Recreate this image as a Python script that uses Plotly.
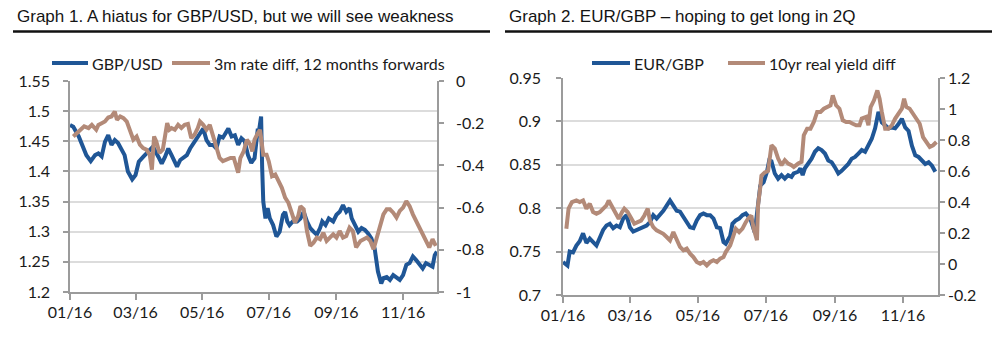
import pandas as pd
import plotly.graph_objects as go

START = pd.Timestamp("2016-01-01")

# ---- Graph 1: GBP/USD vs 3m rate differential (12m forwards) ----
gbpusd_days = [0, 3, 8, 12, 15, 19, 23, 26, 29, 32, 35, 38, 41, 44, 47, 50, 53, 57, 60, 63,
               67, 72, 76, 81, 84, 87, 90, 93, 98, 101, 104, 107, 110, 114, 119, 122, 125, 128,
               131, 134, 137, 140, 145, 148, 151, 154, 157, 160, 163, 166, 169, 171, 172, 173,
               175, 176, 177, 179, 181, 183, 186, 189, 192, 195, 197, 199, 201, 204, 208, 211,
               214, 217, 220, 223, 226, 229, 231, 234, 237, 241, 244, 247, 250, 253, 256, 258,
               261, 264, 267, 270, 273, 276, 279, 281, 282, 285, 287, 290, 293, 296, 299, 302,
               305, 308, 311, 314, 317, 320, 323, 326, 329, 332, 334, 336]
gbpusd = [1.477, 1.474, 1.458, 1.441, 1.427, 1.417, 1.427, 1.430, 1.425, 1.449, 1.460, 1.444,
          1.452, 1.447, 1.438, 1.427, 1.400, 1.387, 1.394, 1.416, 1.424, 1.433, 1.441, 1.424,
          1.413, 1.424, 1.438, 1.427, 1.408, 1.419, 1.424, 1.427, 1.438, 1.449, 1.460, 1.471,
          1.452, 1.444, 1.444, 1.438, 1.458, 1.456, 1.471, 1.458, 1.460, 1.444, 1.455, 1.450,
          1.427, 1.414, 1.422, 1.455, 1.471, 1.466, 1.491, 1.405, 1.350, 1.322, 1.339, 1.322,
          1.311, 1.292, 1.300, 1.328, 1.333, 1.317, 1.311, 1.317, 1.317, 1.322, 1.333, 1.317,
          1.306, 1.300, 1.295, 1.306, 1.317, 1.311, 1.322, 1.317, 1.328, 1.333, 1.344, 1.333,
          1.339, 1.322, 1.311, 1.300, 1.306, 1.303, 1.297, 1.289, 1.272, 1.245, 1.234, 1.214,
          1.223, 1.225, 1.220, 1.228, 1.223, 1.220, 1.228, 1.245, 1.248, 1.259, 1.253, 1.245,
          1.239, 1.248, 1.245, 1.242, 1.261, 1.267]

ratediff_days = [3, 6, 9, 13, 17, 20, 24, 26, 29, 32, 35, 38, 41, 43, 46, 49, 52, 55, 58, 61,
                 64, 67, 70, 73, 75, 77, 79, 82, 85, 89, 91, 93, 96, 99, 102, 105, 108, 111,
                 114, 117, 119, 122, 125, 128, 131, 134, 137, 140, 144, 147, 150, 152, 154, 156,
                 159, 162, 165, 167, 169, 172, 174, 177, 180, 182, 185, 188, 191, 194, 197, 200,
                 203, 206, 209, 211, 214, 217, 220, 223, 226, 229, 232, 235, 238, 241, 244, 247,
                 250, 253, 256, 259, 262, 266, 269, 272, 275, 278, 281, 284, 287, 290, 293, 296,
                 299, 302, 305, 308, 311, 314, 317, 320, 323, 326, 329, 332, 335]
ratediff = [-0.263, -0.247, -0.231, -0.215, -0.223, -0.208, -0.231, -0.208, -0.200, -0.192,
            -0.173, -0.168, -0.145, -0.184, -0.168, -0.176, -0.192, -0.231, -0.278, -0.263,
            -0.302, -0.318, -0.325, -0.349, -0.420, -0.263, -0.286, -0.341, -0.325, -0.200,
            -0.231, -0.223, -0.231, -0.208, -0.223, -0.208, -0.204, -0.270, -0.255, -0.223,
            -0.192, -0.208, -0.231, -0.208, -0.263, -0.302, -0.365, -0.380, -0.373, -0.365,
            -0.365, -0.396, -0.435, -0.365, -0.334, -0.278, -0.300, -0.334, -0.278, -0.247,
            -0.231, -0.349, -0.349, -0.380, -0.451, -0.443, -0.475, -0.506, -0.553, -0.577,
            -0.624, -0.671, -0.639, -0.593, -0.608, -0.711, -0.781, -0.766, -0.742, -0.750,
            -0.719, -0.758, -0.742, -0.727, -0.742, -0.711, -0.742, -0.735, -0.695, -0.711,
            -0.789, -0.758, -0.750, -0.742, -0.758, -0.797, -0.742, -0.679, -0.632, -0.608,
            -0.608, -0.624, -0.647, -0.616, -0.600, -0.569, -0.593, -0.632, -0.663, -0.687,
            -0.727, -0.758, -0.789, -0.750, -0.781]

# ---- Graph 2: EUR/GBP vs 10yr real yield differential ----
eurgbp_days = [0, 4, 6, 9, 12, 15, 18, 21, 24, 27, 30, 33, 36, 39, 42, 45, 48, 51, 54, 57, 60,
               63, 66, 69, 72, 75, 78, 81, 84, 87, 90, 93, 96, 99, 102, 105, 108, 111, 114, 117,
               120, 123, 126, 129, 132, 135, 138, 141, 144, 146, 150, 152, 155, 158, 161, 164,
               168, 172, 175, 177, 180, 183, 185, 187, 190, 193, 196, 199, 202, 205, 207, 211,
               213, 215, 217, 220, 223, 226, 229, 232, 235, 238, 241, 244, 247, 250, 253, 256,
               259, 262, 265, 268, 271, 274, 277, 280, 283, 286, 289, 292, 295, 298, 301, 304,
               307, 310, 313, 316, 319, 322, 325, 328, 331, 334]
eurgbp = [0.738, 0.734, 0.750, 0.749, 0.757, 0.762, 0.771, 0.760, 0.765, 0.761, 0.757, 0.766,
          0.775, 0.780, 0.782, 0.777, 0.780, 0.778, 0.788, 0.792, 0.778, 0.773, 0.775, 0.777,
          0.778, 0.780, 0.784, 0.792, 0.788, 0.792, 0.797, 0.803, 0.809, 0.803, 0.797, 0.796,
          0.790, 0.786, 0.778, 0.777, 0.786, 0.792, 0.794, 0.792, 0.792, 0.788, 0.778, 0.777,
          0.761, 0.759, 0.768, 0.782, 0.786, 0.788, 0.792, 0.794, 0.788, 0.772, 0.811, 0.826,
          0.830, 0.842, 0.855, 0.854, 0.840, 0.834, 0.838, 0.834, 0.838, 0.836, 0.840, 0.842,
          0.846, 0.838, 0.846, 0.851, 0.857, 0.865, 0.869, 0.867, 0.863, 0.855, 0.853, 0.847,
          0.840, 0.843, 0.847, 0.851, 0.857, 0.859, 0.863, 0.867, 0.865, 0.872, 0.880, 0.892,
          0.911, 0.899, 0.896, 0.892, 0.893, 0.892, 0.897, 0.903, 0.893, 0.889, 0.872, 0.861,
          0.859, 0.855, 0.851, 0.853, 0.849, 0.842]

realyld_days = [3, 5, 8, 12, 15, 18, 21, 24, 27, 30, 33, 36, 39, 41, 44, 47, 50, 53, 55, 58, 61,
                64, 67, 70, 73, 76, 78, 81, 84, 87, 90, 93, 96, 99, 102, 105, 108, 111, 114, 117,
                120, 123, 126, 129, 132, 135, 138, 141, 144, 146, 150, 152, 155, 158, 161, 164,
                166, 169, 171, 174, 175, 177, 178, 181, 184, 187, 190, 193, 196, 199, 202, 205,
                207, 211, 214, 216, 219, 222, 225, 228, 231, 234, 237, 240, 242, 245, 248, 251,
                254, 257, 260, 263, 266, 268, 272, 274, 276, 279, 282, 284, 286, 289, 292, 295,
                298, 301, 304, 306, 308, 311, 314, 317, 320, 323, 326, 329, 332, 335]
realyld = [0.228, 0.357, 0.400, 0.410, 0.400, 0.410, 0.357, 0.389, 0.335, 0.324, 0.335, 0.357,
           0.378, 0.410, 0.367, 0.335, 0.292, 0.335, 0.357, 0.335, 0.292, 0.260, 0.270, 0.280,
           0.313, 0.357, 0.280, 0.238, 0.217, 0.206, 0.195, 0.174, 0.152, 0.206, 0.163, 0.110,
           0.088, 0.099, 0.067, 0.045, 0.013, 0.002, 0.013, -0.009, 0.013, 0.024, 0.013, 0.035,
           0.045, 0.077, 0.120, 0.163, 0.228, 0.206, 0.228, 0.270, 0.292, 0.313, 0.228, 0.153,
           0.379, 0.497, 0.570, 0.590, 0.600, 0.766, 0.744, 0.680, 0.637, 0.670, 0.648, 0.637,
           0.626, 0.648, 0.659, 0.830, 0.873, 0.873, 0.916, 0.981, 0.981, 1.002, 1.013, 1.024,
           1.088, 1.024, 1.002, 0.927, 0.916, 0.916, 0.905, 0.895, 0.895, 0.938, 0.949, 0.895,
           1.013, 1.056, 1.120, 1.066, 0.981, 0.873, 0.873, 0.895, 0.938, 0.970, 1.002, 1.066,
           1.013, 1.002, 0.970, 0.938, 0.905, 0.819, 0.787, 0.755, 0.766, 0.787]

# Axis tick labels
g1_right_vals = [0, -0.2, -0.4, -0.6, -0.8, -1]
g1_right_text = ["0", "-0.2", "-0.4", "-0.6", "-0.8", "-1"]
g2_right_vals = [1.2, 1, 0.8, 0.6, 0.4, 0.2, 0, -0.2]
g2_right_text = ["1.2", "1", "0.8", "0.6", "0.4", "0.2", "0", "-0.2"]

titles = ["Graph 1. A hiatus for GBP/USD, but we will see weakness",
          "Graph 2. EUR/GBP \u2013 hoping to get long in 2Q"]
legend_names = ["GBP/USD", "3m rate diff, 12 months forwards", "EUR/GBP", "10yr real yield diff"]

BLUE = "#1f5696"
BROWN = "#b38a78"
AXIS = "#9b9b9b"
GRID = "#dcdcdc"
TXT = "#1a1a1a"
TICKFONT = dict(family="Lato", size=16, color=TXT)
LINE_W = 4


def to_dates(days):
    return [START + pd.Timedelta(days=d) for d in days]


W, H = 1000, 340
fig = go.Figure()

fig.add_trace(go.Scatter(x=to_dates(gbpusd_days), y=gbpusd, mode="lines",
                         line=dict(color=BLUE, width=LINE_W), xaxis="x", yaxis="y"))
fig.add_trace(go.Scatter(x=to_dates(ratediff_days), y=ratediff, mode="lines",
                         line=dict(color=BROWN, width=LINE_W), xaxis="x", yaxis="y2"))
fig.add_trace(go.Scatter(x=to_dates(eurgbp_days), y=eurgbp, mode="lines",
                         line=dict(color=BLUE, width=LINE_W), xaxis="x2", yaxis="y3"))
fig.add_trace(go.Scatter(x=to_dates(realyld_days), y=realyld, mode="lines",
                         line=dict(color=BROWN, width=LINE_W), xaxis="x2", yaxis="y4"))

axis_style = dict(showline=True, linecolor=AXIS, linewidth=1.5, ticks="outside",
                  tickcolor=AXIS, tickwidth=1.5, zeroline=False, tickfont=TICKFONT,
                  automargin=False)

xcommon = dict(axis_style, type="date", dtick="M2", tick0="2016-01-01", tickformat="%m/%y",
               ticklen=6, showgrid=False, ticklabelstandoff=-1)

fig.update_layout(
    width=W, height=H, margin=dict(l=0, r=0, t=0, b=0, pad=0, autoexpand=False),
    autosize=False, paper_bgcolor="white", plot_bgcolor="white", showlegend=False,
    xaxis=dict(xcommon, domain=[70 / W, 437 / W], anchor="y",
               range=["2016-01-01", "2016-12-02 02:00"]),
    yaxis=dict(axis_style, domain=[1 - 292 / H, 1 - 81 / H], range=[1.2, 1.55],
               dtick=0.05, tick0=1.2, ticklen=5, showgrid=True, gridcolor=GRID,
               gridwidth=1.5, ticklabelstandoff=10),
    yaxis2=dict(axis_style, overlaying="y", side="right", anchor="x", range=[-1, 0],
                tickvals=g1_right_vals, ticktext=g1_right_text, ticklen=5,
                showgrid=False, ticklabelstandoff=9),
    xaxis2=dict(xcommon, domain=[563 / W, 938 / W], anchor="y3",
                range=["2016-01-01", "2016-12-02 10:00"]),
    yaxis3=dict(axis_style, domain=[1 - 295 / H, 1 - 78 / H], range=[0.7, 0.95],
                dtick=0.05, tick0=0.7, anchor="x2", ticklen=5, showgrid=True,
                gridcolor=GRID, gridwidth=1.5, ticklabelstandoff=12),
    yaxis4=dict(axis_style, overlaying="y3", side="right", anchor="x2", range=[-0.2, 1.2],
                tickvals=g2_right_vals, ticktext=g2_right_text, ticklen=5,
                showgrid=False, ticklabelstandoff=0),
)

# Panel headings with a heavy rule underneath
for title, (x0, x1) in zip(titles, [(13, 490), (505, 992)]):
    fig.add_annotation(text=title, xref="paper", yref="paper", x=(x0 + 2) / W, y=1 - 16.5 / H,
                       xanchor="left", yanchor="middle", showarrow=False,
                       font=dict(family="Liberation Sans", size=17, color="#141414"))
    fig.add_shape(type="line", xref="paper", yref="paper", x0=x0 / W, x1=x1 / W,
                  y0=1 - 31.5 / H, y1=1 - 31.5 / H, line=dict(color="#111111", width=2.5))

# Legend rows: swatch line followed by label
legend_spec = [
    (legend_names[0], BLUE, 52, 88, 63),
    (legend_names[1], BROWN, 172, 210, 63),
    (legend_names[2], BLUE, 592, 630, 63),
    (legend_names[3], BROWN, 728, 765, 63),
]
for name, color, sx0, sx1, yy in legend_spec:
    fig.add_shape(type="line", xref="paper", yref="paper", x0=sx0 / W, x1=sx1 / W,
                  y0=1 - yy / H, y1=1 - yy / H, line=dict(color=color, width=4))
    fig.add_annotation(text=name, xref="paper", yref="paper", x=(sx1 + 2) / W, y=1 - yy / H,
                       xanchor="left", yanchor="middle", showarrow=False,
                       font=dict(family="Lato", size=16, color=TXT))

fig.write_html("out.html")
